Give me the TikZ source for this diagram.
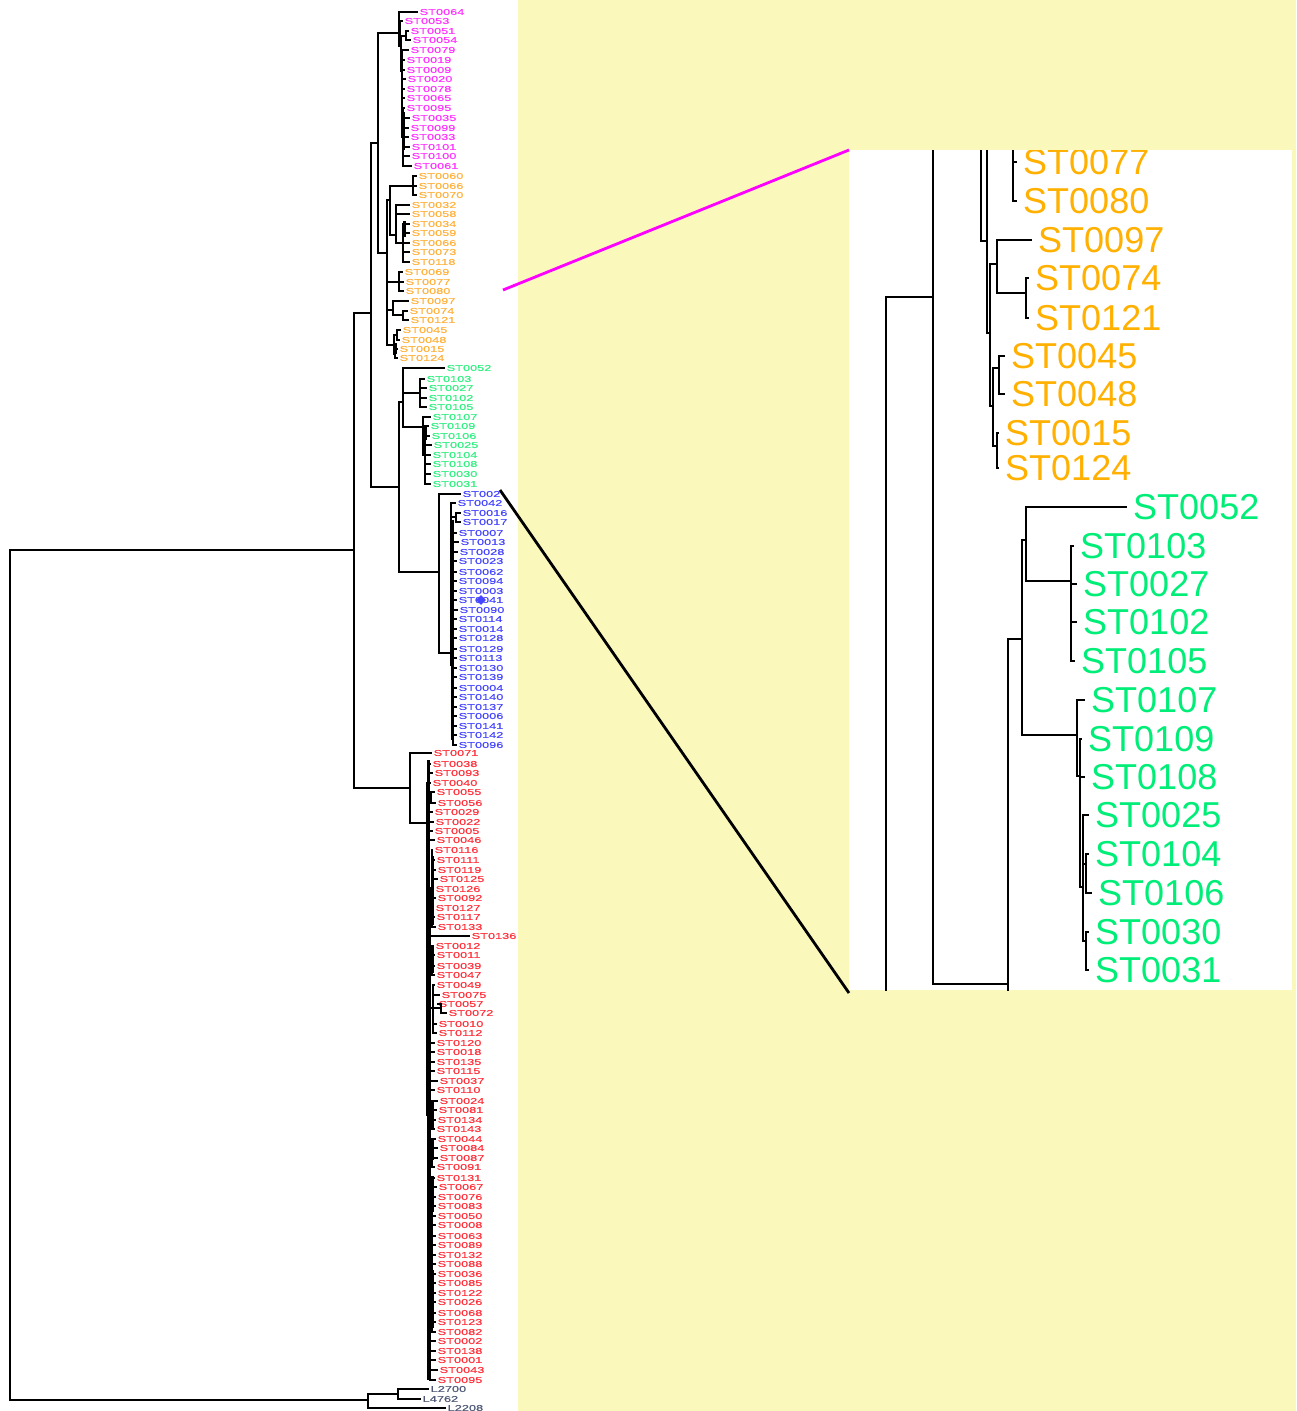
\documentclass[tikz,border=0pt]{standalone}
\usepackage{fontspec}
\usetikzlibrary{shapes.geometric}
\newfontfamily\labfont[FakeStretch=1.5,FakeBold=0.4]{Liberation Sans}
\newfontfamily\insfont{Liberation Sans}
\newcommand\lblfs{\labfont\fontsize{8.5}{9}\selectfont}
\newcommand\insfs{\insfont\fontsize{36}{38}\selectfont}
\definecolor{labM}{RGB}{255,51,255}
\definecolor{labO}{RGB}{255,178,60}
\definecolor{labG}{RGB}{50,240,130}
\definecolor{labB}{RGB}{70,70,255}
\definecolor{labR}{RGB}{255,50,60}
\definecolor{labU}{RGB}{80,90,120}
\definecolor{insO}{RGB}{255,176,0}
\definecolor{insG}{RGB}{0,238,120}
\definecolor{bgY}{RGB}{250,249,187}
\definecolor{zm}{RGB}{255,0,255}
\tikzset{
  tl/.style={line width=1.8pt,black},
  thk/.style={line width=3pt,black},
  il/.style={line width=1.1pt,black},
  lab/.style={anchor=west,inner xsep=1.5pt,inner ysep=0pt,font=\lblfs},
  labM/.style={lab,text=labM},
  labO/.style={lab,text=labO},
  labG/.style={lab,text=labG},
  labB/.style={lab,text=labB},
  labR/.style={lab,text=labR},
  labU/.style={lab,text=labU},
  ins/.style={anchor=west,inner xsep=6pt,inner ysep=0pt,font=\insfs},
  insOs/.style={ins,text=insO},
  insGs/.style={ins,text=insG},
}
\begin{document}
\begin{tikzpicture}[x=1pt,y=-1pt]
\useasboundingbox (0,0) rectangle (1296,1411);
\fill[white] (0,0) rectangle (1296,1411);
\fill[bgY] (518,0) rectangle (1296,1411);
\fill[white] (849,150) rectangle (1292,990);

% ---------------- left labels
\foreach \i/\x/\y/\t in {1/418/12/ST0064,2/403/21/ST0053,3/409/31/ST0051,4/411/40/ST0054,5/409/50/ST0079,6/405/60/ST0019,7/405/70/ST0009,8/406/79/ST0020,9/405/89/ST0078,10/405/98/ST0065,11/405/108/ST0095,12/410/118/ST0035,13/409/128/ST0099,14/409/137/ST0033,15/410/147/ST0101,16/410/156/ST0100,17/412/166/ST0061}
  \node[labM] (m\i) at (\x,\y) {\t};
\foreach \i/\x/\y/\t in {1/417/176/ST0060,2/417/186/ST0066,3/417/195/ST0070,4/410/205/ST0032,5/410/214/ST0058,6/410/224/ST0034,7/410/233/ST0059,8/410/243/ST0066,9/410/252/ST0073,10/410/262/ST0118,11/403/272/ST0069,12/404/282/ST0077,13/404/291/ST0080,14/409/301/ST0097,15/408/311/ST0074,16/409/320/ST0121,17/401/330/ST0045,18/400/340/ST0048,19/398/349/ST0015,20/398/358/ST0124}
  \node[labO] (o\i) at (\x,\y) {\t};
\foreach \i/\x/\y/\t in {1/445/368/ST0052,2/425/379/ST0103,3/427/388/ST0027,4/427/398/ST0102,5/427/407/ST0105,6/431/417/ST0107,7/429/426/ST0109,8/430/436/ST0106,9/432/445/ST0025,10/431/455/ST0104,11/431/464/ST0108,12/431/474/ST0030,13/431/484/ST0031}
  \node[labG] (g\i) at (\x,\y) {\t};
\foreach \i/\x/\y/\t in {1/461/494/ST002,2/456/503/ST0042,3/461/513/ST0016,4/461/522/ST0017,5/457/533/ST0007,6/459/542/ST0013,7/458/552/ST0028,8/457/561/ST0023,9/457/572/ST0062,10/457/581/ST0094,11/457/591/ST0003,12/457/600/ST0041,13/458/610/ST0090,14/457/619/ST0114,15/457/629/ST0014,16/457/638/ST0128,17/457/649/ST0129,18/457/658/ST0113,19/457/668/ST0130,20/457/677/ST0139,21/457/688/ST0004,22/457/697/ST0140,23/457/707/ST0137,24/457/716/ST0006,25/457/726/ST0141,26/457/735/ST0142,27/457/745/ST0096}
  \node[labB] (b\i) at (\x,\y) {\t};
\foreach \i/\x/\y/\t in {1/432/753/ST0071,2/431/764/ST0038,3/433/773/ST0093,4/431/783/ST0040,5/435/792/ST0055,6/436/803/ST0056,7/433/812/ST0029,8/434/822/ST0022,9/433/831/ST0005,10/435/840/ST0046,11/433/850/ST0116,12/435/860/ST0111,13/436/870/ST0119,14/438/879/ST0125,15/434/889/ST0126,16/436/898/ST0092,17/434/908/ST0127,18/435/917/ST0117,19/436/927/ST0133,20/470/936/ST0136,21/434/946/ST0012,22/435/955/ST0011,23/435/966/ST0039,24/435/975/ST0047,25/435/985/ST0049,26/440/995/ST0075,27/437/1004/ST0057,28/447/1013/ST0072,29/437/1024/ST0010,30/437/1033/ST0112,31/435/1043/ST0120,32/435/1052/ST0018,33/435/1062/ST0135,34/435/1071/ST0115,35/438/1081/ST0037,36/435/1090/ST0110,37/438/1101/ST0024,38/437/1110/ST0081,39/436/1120/ST0134,40/435/1129/ST0143,41/436/1139/ST0044,42/438/1148/ST0084,43/438/1158/ST0087,44/435/1167/ST0091,45/435/1178/ST0131,46/437/1187/ST0067,47/436/1197/ST0076,48/436/1206/ST0083,49/436/1216/ST0050,50/436/1225/ST0008,51/436/1236/ST0063,52/436/1245/ST0089,53/436/1255/ST0132,54/436/1264/ST0088,55/436/1274/ST0036,56/436/1283/ST0085,57/436/1293/ST0122,58/436/1302/ST0026,59/436/1313/ST0068,60/436/1322/ST0123,61/436/1332/ST0082,62/436/1341/ST0002,63/436/1351/ST0138,64/436/1360/ST0001,65/438/1370/ST0043,66/436/1380/ST0095}
  \node[labR] (r\i) at (\x,\y) {\t};
\node[labU] (u1) at (429,1389) {L2700};
\node[labU] (u2) at (421,1399) {L4762};
\node[labU] (u3) at (446,1408) {L2208};
\node[diamond,fill=labB,inner sep=0pt,minimum width=10pt,minimum height=10pt] (dia) at (481,600) {};

% ---------------- left internal nodes
\coordinate (R) at (10,975);
\coordinate (N1) at (354,550);
\coordinate (N2) at (371,313);
\coordinate (N3) at (378,143);
\coordinate (N4) at (399,487);
\coordinate (U0) at (368,1400);
\coordinate (U1) at (398,1394);
\coordinate (M0) at (399,33);
\coordinate (M1) at (400.5,46);
\coordinate (M2) at (401.5,71);
\coordinate (M3) at (406,36);
\coordinate (M4) at (402,106);
\coordinate (M5) at (402.5,75);
\coordinate (M6) at (403,137);
\coordinate (O0) at (387,253);
\coordinate (O1) at (390,200);
\coordinate (OA) at (413,186);
\coordinate (OB) at (396,235);
\coordinate (OB2) at (403,243);
\coordinate (OC) at (399,282);
\coordinate (OD) at (393,310);
\coordinate (OD2) at (403,315);
\coordinate (OE) at (394,345);
\coordinate (OE1) at (397,335);
\coordinate (OE2) at (395,354);
\coordinate (G0) at (403,402);
\coordinate (G1) at (420,393);
\coordinate (G2) at (423,427);
\coordinate (G3) at (425,455);
\coordinate (B0) at (439,572);
\coordinate (B1) at (451,653);
\coordinate (BP) at (456,517);
\coordinate (B2) at (453,575);
\coordinate (B3) at (453,665);
\coordinate (R0) at (410,788);
\coordinate (R1) at (427,823);
\coordinate (RA) at (429,783);
\coordinate (RA2) at (431,797);
\coordinate (RB) at (430,1115);
\coordinate (RB1) at (432,888);
\coordinate (RB2) at (432,960);
\coordinate (RB3) at (433,1008);
\coordinate (RB3a) at (441,1008);
\coordinate (RB4) at (432,1115);
\coordinate (RB5) at (432,1153);
\coordinate (RB6) at (432,1255);

% ---------------- left connectors
\draw[tl] (R) |- (N1);
\draw[tl] (R) |- (U0);
\draw[tl] (U0) |- (U1);
\draw[tl] (U0) |- (u3.west);
\draw[tl] (U1) |- (u1.west);
\draw[tl] (U1) |- (u2.west);
\draw[tl] (N1) |- (N2);
\draw[tl] (N1) |- (R0);
\draw[tl] (N2) |- (N3);
\draw[tl] (N2) |- (N4);
\draw[tl] (N3) |- (M0);
\draw[tl] (N3) |- (O0);
\draw[tl] (N4) |- (G0);
\draw[tl] (N4) |- (B0);
% magenta
\draw[tl] (M0) |- (m1.west);
\draw[tl] (M0) |- (M1);
\draw[tl] (M1) |- (m2.west);
\draw[tl] (M1) |- (M2);
\draw[tl] (M2) |- (M3);
\draw[tl] (M2) |- (M4);
\foreach \c in {3,4} \draw[tl] (M3) |- (m\c.west);
\draw[tl] (M4) |- (M5);
\draw[tl] (M4) |- (M6);
\foreach \c in {5,...,10} \draw[tl] (M5) |- (m\c.west);
\foreach \c in {11,...,17} \draw[tl] (M6) |- (m\c.west);
\draw[thk] (403,112) -- (403,150);
% orange
\draw[tl] (O0) |- (O1);
\draw[tl] (O0) |- (OC);
\draw[tl] (O0) |- (OD);
\draw[tl] (O0) |- (OE);
\draw[tl] (O1) |- (OA);
\draw[tl] (O1) |- (OB);
\foreach \c in {1,2,3} \draw[tl] (OA) |- (o\c.west);
\foreach \c in {4,5} \draw[tl] (OB) |- (o\c.west);
\draw[tl] (OB) |- (OB2);
\foreach \c in {6,...,10} \draw[tl] (OB2) |- (o\c.west);
\draw[thk] (404,221) -- (404,237);
\foreach \c in {11,12,13} \draw[tl] (OC) |- (o\c.west);
\draw[tl] (OD) |- (o14.west);
\draw[tl] (OD) |- (OD2);
\foreach \c in {15,16} \draw[tl] (OD2) |- (o\c.west);
\draw[tl] (OE) |- (OE1);
\draw[tl] (OE) |- (OE2);
\foreach \c in {17,18} \draw[tl] (OE1) |- (o\c.west);
\foreach \c in {19,20} \draw[tl] (OE2) |- (o\c.west);
\draw[thk] (395,343) -- (395,354);
% green
\draw[tl] (G0) |- (g1.west);
\draw[tl] (G0) |- (G1);
\draw[tl] (G0) |- (G2);
\foreach \c in {2,...,5} \draw[tl] (G1) |- (g\c.west);
\draw[tl] (G2) |- (g6.west);
\draw[tl] (G2) |- (G3);
\foreach \c in {7,...,13} \draw[tl] (G3) |- (g\c.west);
\draw[thk] (425,425) -- (425,440);
% blue
\draw[tl] (B0) |- (b1.west);
\draw[tl] (B0) |- (B1);
\draw[tl] (B1) |- (b2.west);
\draw[tl] (B1) |- (BP);
\foreach \c in {3,4} \draw[tl] (BP) |- (b\c.west);
\draw[tl] (B1) |- (B2);
\draw[tl] (B1) |- (B3);
\foreach \c in {5,...,14} \draw[tl] (B2) |- (b\c.west);
\foreach \c in {15,...,27} \draw[tl] (B3) |- (b\c.west);
\draw[thk] (452,520) -- (452,740);
% red
\draw[tl] (R0) |- (r1.west);
\draw[tl] (R0) |- (R1);
\draw[tl] (R1) |- (RA);
\foreach \c in {8,9,10} \draw[tl] (R1) |- (r\c.west);
\draw[tl] (R1) |- (RB);
\foreach \c in {2,3,4,7} \draw[tl] (RA) |- (r\c.west);
\draw[tl] (RA) |- (RA2);
\foreach \c in {5,6} \draw[tl] (RA2) |- (r\c.west);
\draw[tl] (RB) |- (RB1);
\draw[tl] (RB) |- (r20.west);
\draw[tl] (RB) |- (RB2);
\draw[tl] (RB) |- (RB3);
\foreach \c in {31,...,36} \draw[tl] (RB) |- (r\c.west);
\draw[tl] (RB) |- (RB4);
\draw[tl] (RB) |- (RB5);
\draw[tl] (RB) |- (RB6);
\foreach \c in {62,...,66} \draw[tl] (RB) |- (r\c.west);
\foreach \c in {11,...,19} \draw[tl] (RB1) |- (r\c.west);
\draw[thk] (432,856) -- (432,925);
\foreach \c in {21,...,24} \draw[tl] (RB2) |- (r\c.west);
\draw[thk] (432,946) -- (432,973);
\foreach \c in {25,26,29,30} \draw[tl] (RB3) |- (r\c.west);
\draw[tl] (RB3) |- (RB3a);
\foreach \c in {27,28} \draw[tl] (RB3a) |- (r\c.west);
\foreach \c in {37,...,40} \draw[tl] (RB4) |- (r\c.west);
\draw[thk] (432,1101) -- (432,1129);
\foreach \c in {41,...,44} \draw[tl] (RB5) |- (r\c.west);
\draw[thk] (432,1139) -- (432,1160);
\foreach \c in {45,...,61} \draw[tl] (RB6) |- (r\c.west);
\draw[thk] (432,1176) -- (432,1212);
\draw[thk] (432,1270) -- (432,1328);
\draw[thk] (428,760) -- (428,1380);

% ---------------- zoom connectors
\coordinate (zmA) at (503,290);
\coordinate (zmB) at (849,150);
\coordinate (zkA) at (500,490);
\coordinate (zkB) at (849,993);
\draw[zm,line width=2.8pt] (zmA) -- (zmB);
\draw[black,line width=2.8pt] (zkA) -- (zkB);

% ---------------- inset
\begin{scope}
\clip (849,150) rectangle (1292,990);
\foreach \i/\x/\y/\t in {1/1023/162/ST0077,2/1023/201/ST0080,3/1038/240/ST0097,4/1035/278/ST0074,5/1035/318/ST0121,6/1011/356/ST0045,7/1011/394/ST0048,8/1005/433/ST0015,9/1005/468/ST0124}
  \node[insOs] (io\i) at (\x-6,\y) {\t};
\foreach \i/\x/\y/\t in {1/1133/507/ST0052,2/1080/546/ST0103,3/1083/584/ST0027,4/1083/622/ST0102,5/1081/661/ST0105,6/1091/700/ST0107,7/1088/739/ST0109,8/1091/777/ST0108,9/1095/815/ST0025,10/1095/854/ST0104,11/1098/893/ST0106,12/1095/932/ST0030,13/1095/970/ST0031}
  \node[insGs] (ig\i) at (\x-6,\y) {\t};
\coordinate (X885) at (886,700);
\coordinate (Xbot) at (960,1100);
\coordinate (X933) at (933,297);
\coordinate (IO0) at (981,120);
\coordinate (IOb) at (987,241);
\coordinate (IOa) at (1013,140);
\coordinate (IO2) at (990,333);
\coordinate (IO3) at (997,264);
\coordinate (IO4) at (1026,293);
\coordinate (IO5) at (993,406);
\coordinate (IO6) at (999,368);
\coordinate (IO7) at (997,446);
\coordinate (IG0) at (1008,984);
\coordinate (IGb) at (1040,1100);
\coordinate (IG1) at (1022,639);
\coordinate (IG2) at (1026,540);
\coordinate (IG3) at (1077,735);
\coordinate (IG4) at (1071,581);
\coordinate (IG6) at (1080,776);
\coordinate (IG7) at (1083,887);
\coordinate (IG8) at (1086,864);
\coordinate (IG9) at (1086,941);
\draw[il] (X885) |- (X933);
\draw[il] (X885) |- (Xbot);
\draw[il] (X933) |- (IO0);
\draw[il] (X933) |- (IG0);
\draw[il] (IO0) |- (IOb);
\draw[il] (IOb) |- (IOa);
\draw[il] (IOb) |- (IO2);
\draw[il] (IOa) |- (io1.west);
\draw[il] (IOa) |- (io2.west);
\draw[il] (IO2) |- (IO3);
\draw[il] (IO2) |- (IO5);
\draw[il] (IO3) |- (io3.west);
\draw[il] (IO3) |- (IO4);
\draw[il] (IO4) |- (io4.west);
\draw[il] (IO4) |- (io5.west);
\draw[il] (IO5) |- (IO6);
\draw[il] (IO5) |- (IO7);
\draw[il] (IO6) |- (io6.west);
\draw[il] (IO6) |- (io7.west);
\draw[il] (IO7) |- (io8.west);
\draw[il] (IO7) |- (io9.west);
\draw[il] (IG0) |- (IG1);
\draw[il] (IG0) |- (IGb);
\draw[il] (IG1) |- (IG2);
\draw[il] (IG1) |- (IG3);
\draw[il] (IG2) |- (ig1.west);
\draw[il] (IG2) |- (IG4);
\foreach \c in {2,...,5} \draw[il] (IG4) |- (ig\c.west);
\draw[il] (IG3) |- (ig6.west);
\draw[il] (IG3) |- (IG6);
\draw[il] (IG6) |- (ig7.west);
\draw[il] (IG6) |- (ig8.west);
\draw[il] (IG6) |- (IG7);
\draw[il] (IG7) |- (ig9.west);
\draw[il] (IG7) |- (IG8);
\draw[il] (IG7) |- (IG9);
\foreach \c in {10,11} \draw[il] (IG8) |- (ig\c.west);
\foreach \c in {12,13} \draw[il] (IG9) |- (ig\c.west);
\end{scope}
\end{tikzpicture}
\end{document}
